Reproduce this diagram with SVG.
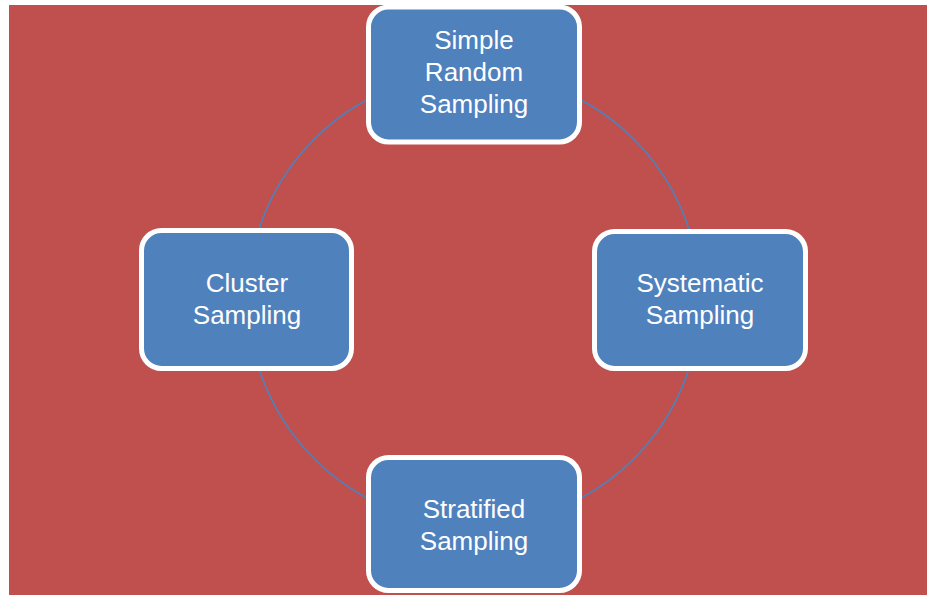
<svg xmlns="http://www.w3.org/2000/svg" width="927" height="595" viewBox="0 0 927 595">
<style>
.node{fill:#4F81BD;stroke:#FFFFFF;stroke-width:5}
.lbl{fill:#FFFFFF;font-family:"Liberation Sans",Arial,sans-serif;font-size:26px;text-anchor:middle}
.conn{fill:none;stroke:#4F81BD;stroke-width:1.6}
</style>
<rect x="0" y="0" width="927" height="595" fill="#FFFFFF"/>
<rect x="9" y="5" width="918" height="590" fill="#C0504D"/>
<g id="connectors">
<path class="conn" d="M 582 100.5 A 226 226 0 0 1 688.9 229"/>
<path class="conn" d="M 366 100.5 A 226 226 0 0 0 259.1 229"/>
<path class="conn" d="M 688.2 371 A 226 226 0 0 1 582 497.5"/>
<path class="conn" d="M 259.8 371 A 226 226 0 0 0 366 497.5"/>
</g>
<g id="node-simple-random">
<rect class="node" x="368.5" y="7" width="211" height="135" rx="20"/>
<text class="lbl" x="474" y="49">Simple</text>
<text class="lbl" x="474" y="81">Random</text>
<text class="lbl" x="474" y="113">Sampling</text>
</g>
<g id="node-cluster">
<rect class="node" x="141.5" y="230.5" width="210" height="138" rx="20"/>
<text class="lbl" x="247" y="292">Cluster</text>
<text class="lbl" x="247" y="324">Sampling</text>
</g>
<g id="node-systematic">
<rect class="node" x="594.5" y="231.5" width="211" height="137" rx="20"/>
<text class="lbl" x="700" y="292">Systematic</text>
<text class="lbl" x="700" y="324">Sampling</text>
</g>
<g id="node-stratified">
<rect class="node" x="368.5" y="457.5" width="211" height="133" rx="20"/>
<text class="lbl" x="474" y="518">Stratified</text>
<text class="lbl" x="474" y="550">Sampling</text>
</g>
</svg>
